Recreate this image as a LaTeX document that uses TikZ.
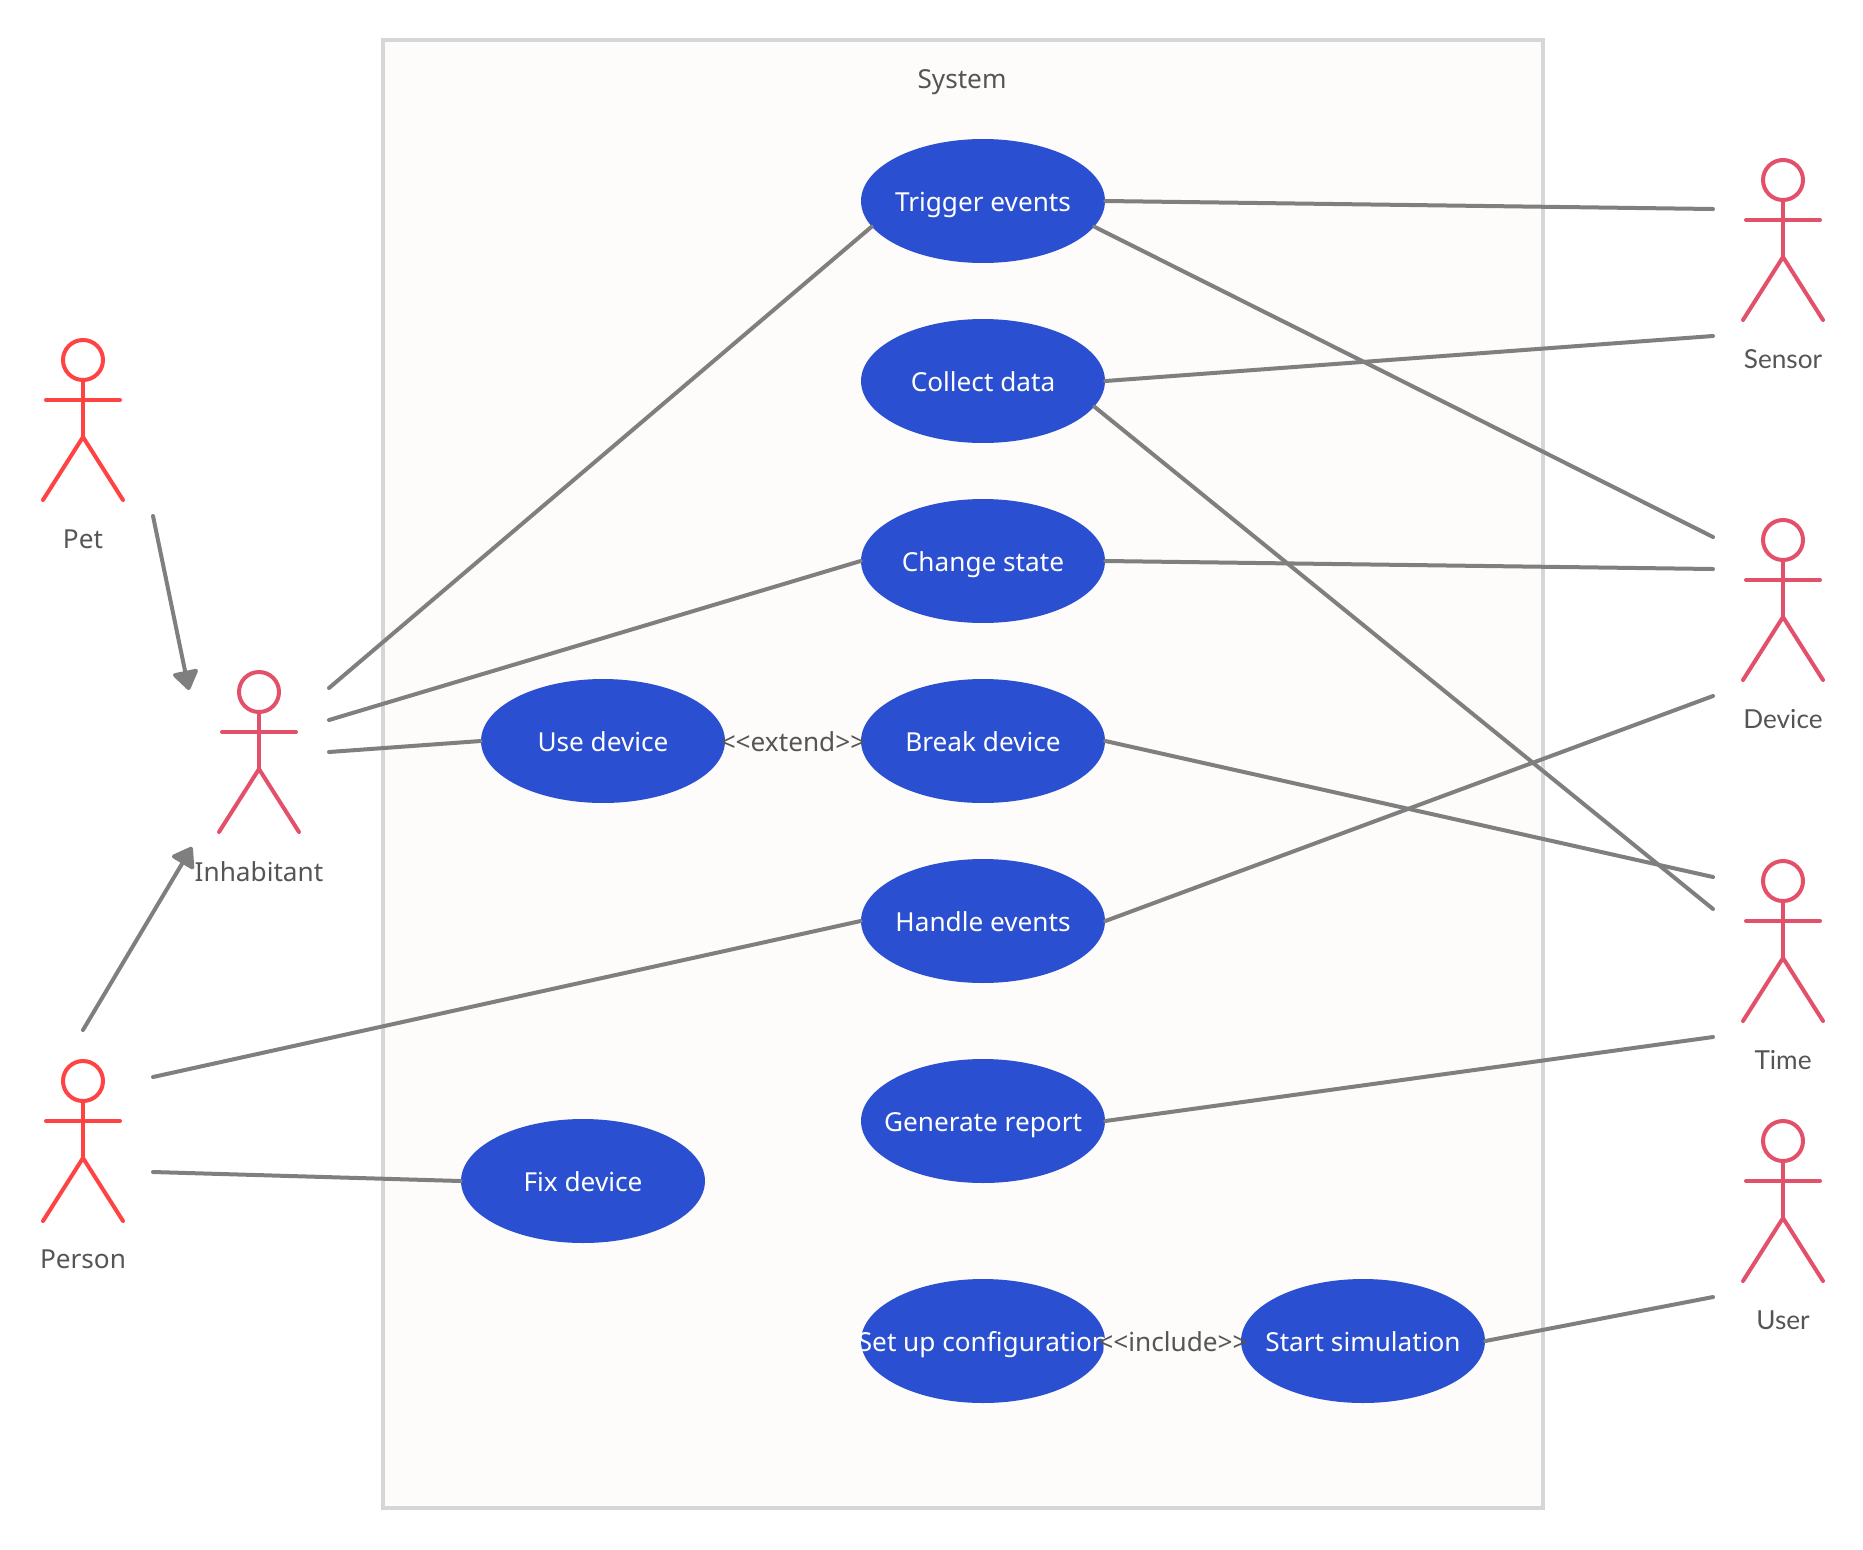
\documentclass[tikz,border=0pt]{standalone}
\usepackage{fontspec}
\setmainfont{Noto Sans}
\newfontfamily\latofont{Lato}
\usetikzlibrary{arrows.meta}
\usetikzlibrary{shapes.geometric}
\definecolor{actorred}{HTML}{FF4242}
\definecolor{actorpink}{HTML}{E2506A}
\definecolor{casecolor}{HTML}{2B4FD1}
\definecolor{linecolor}{HTML}{7F7F7F}
\definecolor{boxcolor}{HTML}{D6D6D6}
\definecolor{boxfill}{HTML}{FDFCFB}
\definecolor{textcolor}{HTML}{555555}
\newcommand{\casetext}[1]{\makebox[0pt]{#1}}
\tikzset{
	casestyle/.style={ellipse,fill=casecolor,text=white,inner sep=0pt,minimum width=4.88cm,minimum height=2.48cm,text height=14.6pt,text depth=2.4pt},
	labelstyle/.style={text=textcolor,inner sep=0pt,text height=14.6pt,text depth=2.4pt},
	linkstyle/.style={draw=linecolor,line width=0.08cm,line cap=round},
	genstyle/.style={linkstyle,-{Triangle[round,length=0.42cm,width=0.56cm]}},
	pics/actor/.style={code={
		\draw[draw=#1,line width=0.08cm,line cap=round,line join=round] (0,0) circle[radius=20];
		\draw[draw=#1,line width=0.08cm,line cap=round,line join=round] (0,20)--(0,77);
		\draw[draw=#1,line width=0.08cm,line cap=round] (-37,40)--(37,40);
		\draw[draw=#1,line width=0.08cm,line cap=round,line join=round] (-40,140)--(0,77)--(40,140);
	}}
}
\begin{document}
\begin{tikzpicture}[x=0.02cm,y=-0.02cm]
		\fontsize{14.9pt}{17pt}\selectfont
		\useasboundingbox (0,0) rectangle (1863,1549);
		\draw[draw=boxcolor,fill=boxfill,line width=0.08cm] (383,40) rectangle (1543,1508);
		\node[labelstyle] (system) at (962,78) {System};
		% actors
		\pic at (83,360) {actor=actorred};
		\pic at (259,692) {actor=actorpink};
		\pic at (83,1081) {actor=actorred};
		\pic at (1783,180) {actor=actorpink};
		\pic at (1783,540) {actor=actorpink};
		\pic at (1783,881) {actor=actorpink};
		\pic at (1783,1141) {actor=actorpink};
		\node[labelstyle] (pet) at (83,538) {Pet};
		\node[labelstyle] (inhabitant) at (259,871) {Inhabitant};
		\node[labelstyle] (person) at (83,1258) {Person};
		\node[labelstyle] (sensor) at (1783,358) {\latofont Sensor};
		\node[labelstyle] (device) at (1783,718) {\latofont Device};
		\node[labelstyle] (time) at (1783,1059) {\latofont Time};
		\node[labelstyle] (user) at (1783,1319) {\latofont User};
		% use cases
		\node[casestyle] (trigger) at (983,201) {\casetext{Trigger events}};
		\node[casestyle] (collect) at (983,381) {\casetext{Collect data}};
		\node[casestyle] (change) at (983,561) {\casetext{Change state}};
		\node[casestyle] (break) at (983,741) {\casetext{Break device}};
		\node[casestyle] (use) at (603,741) {\casetext{Use device}};
		\node[casestyle] (handle) at (983,921) {\casetext{Handle events}};
		\node[casestyle] (report) at (983,1121) {\casetext{Generate report}};
		\node[casestyle] (fix) at (583,1181) {\casetext{Fix device}};
		\node[casestyle] (setup) at (983,1341) {\casetext{Set up configuration}};
		\node[casestyle] (start) at (1363,1341) {\casetext{Start simulation}};
		\node[labelstyle] (extend) at (793,741) {<{}<extend>{}>};
		\node[labelstyle] (include) at (1173,1341) {<{}<include>{}>};
		% free ends beside the actors
		\coordinate (petout) at (153,516);
		\coordinate (petin) at (189,690);
		\coordinate (personout) at (83,1030);
		\coordinate (personin) at (192,847);
		\coordinate (inhabitanta) at (329,688);
		\coordinate (inhabitantb) at (329,720);
		\coordinate (inhabitantc) at (329,752);
		\coordinate (persona) at (153,1077);
		\coordinate (personb) at (153,1172);
		\coordinate (sensora) at (1713,209);
		\coordinate (sensorb) at (1713,336);
		\coordinate (devicea) at (1713,537);
		\coordinate (deviceb) at (1713,569);
		\coordinate (devicec) at (1713,696);
		\coordinate (timea) at (1713,877);
		\coordinate (timeb) at (1713,909);
		\coordinate (timec) at (1713,1037);
		\coordinate (usera) at (1713,1297);
		% connectors
		\draw[genstyle] (petout)--(petin);
		\draw[genstyle] (personout)--(personin);
		\draw[linkstyle] (inhabitanta)--(trigger.193);
		\draw[linkstyle] (inhabitantb)--(change.west);
		\draw[linkstyle] (inhabitantc)--(use.west);
		\draw[linkstyle] (persona)--(handle.west);
		\draw[linkstyle] (personb)--(fix.west);
		\draw[linkstyle] (trigger.east)--(sensora);
		\draw[linkstyle] (trigger.347)--(devicea);
		\draw[linkstyle] (collect.east)--(sensorb);
		\draw[linkstyle] (collect.347)--(timeb);
		\draw[linkstyle] (change.east)--(deviceb);
		\draw[linkstyle] (break.east)--(timea);
		\draw[linkstyle] (handle.east)--(devicec);
		\draw[linkstyle] (report.east)--(timec);
		\draw[linkstyle] (start.east)--(usera);
		\end{tikzpicture}
\end{document}
